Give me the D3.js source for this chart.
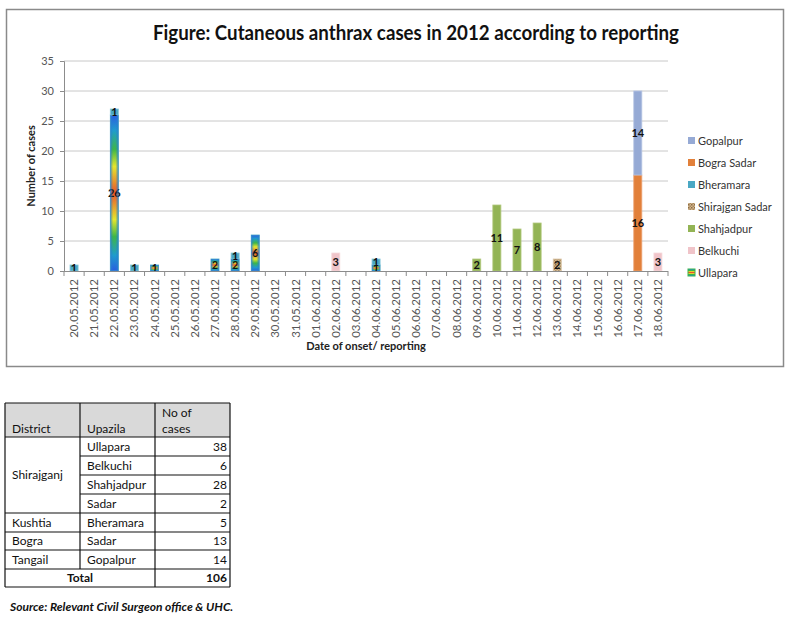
<!DOCTYPE html>
<html>
<head>
<meta charset="utf-8">
<script src="https://cdn.jsdelivr.net/npm/d3@7"></script>
<style>
  body { margin: 0; background: #fff; }
  svg { display: block; font-family: Lato, "Open Sans", sans-serif; }
</style>
</head>
<body>
<svg id="fig" width="803" height="618"></svg>
<script>
// ---- chart data ----
var dates = ["20.05.2012", "21.05.2012", "22.05.2012", "23.05.2012", "24.05.2012", "25.05.2012",
  "26.05.2012", "27.05.2012", "28.05.2012", "29.05.2012", "30.05.2012", "31.05.2012",
  "01.06.2012", "02.06.2012", "03.06.2012", "04.06.2012", "05.06.2012", "06.06.2012",
  "07.06.2012", "08.06.2012", "09.06.2012", "10.06.2012", "11.06.2012", "12.06.2012",
  "13.06.2012", "14.06.2012", "15.06.2012", "16.06.2012", "17.06.2012", "18.06.2012"];

var ullapara      = [0,0,26,0,1,0,0,2,2,6,0,0,0,0,0,1,0,0,0,0,0,0,0,0,0,0,0,0,0,0];
var belkuchi      = [0,0,0,0,0,0,0,0,0,0,0,0,0,3,0,0,0,0,0,0,0,0,0,0,0,0,0,0,0,3];
var shahjadpur    = [0,0,0,0,0,0,0,0,0,0,0,0,0,0,0,0,0,0,0,0,2,11,7,8,0,0,0,0,0,0];
var shirajganSadar= [0,0,0,0,0,0,0,0,0,0,0,0,0,0,0,0,0,0,0,0,0,0,0,0,2,0,0,0,0,0];
var bheramara     = [1,0,1,1,0,0,0,0,1,0,0,0,0,0,0,1,0,0,0,0,0,0,0,0,0,0,0,0,0,0];
var bograSadar    = [0,0,0,0,0,0,0,0,0,0,0,0,0,0,0,0,0,0,0,0,0,0,0,0,0,0,0,0,16,0];
var gopalpur      = [0,0,0,0,0,0,0,0,0,0,0,0,0,0,0,0,0,0,0,0,0,0,0,0,0,0,0,0,14,0];

// stacking order, bottom to top
var seriesNames = ["Ullapara", "Belkuchi", "Shahjadpur", "Shirajgan Sadar", "Bheramara", "Bogra Sadar", "Gopalpur"];
var seriesValues = [ullapara, belkuchi, shahjadpur, shirajganSadar, bheramara, bograSadar, gopalpur];
var yTicks = [0, 5, 10, 15, 20, 25, 30, 35];

// ---- table data ----
var districts = ["Shirajganj", "Kushtia", "Bogra", "Tangail"];
var districtSpans = [4, 1, 1, 1];
var upazilas = ["Ullapara", "Belkuchi", "Shahjadpur", "Sadar", "Bheramara", "Sadar", "Gopalpur"];
var caseCounts = [38, 6, 28, 2, 5, 13, 14];
var totalCases = 106;

var colors = {
  "Ullapara": "url(#ullaGrad)",
  "Belkuchi": "#f0c4c9",
  "Shahjadpur": "#93b455",
  "Shirajgan Sadar": "url(#sadarPat)",
  "Bheramara": "#4aa8c4",
  "Bogra Sadar": "#e2803a",
  "Gopalpur": "#96aad5"
};
var strokes = {
  "Ullapara": "#4aa8c4",
  "Belkuchi": "#f6dadd",
  "Shahjadpur": "#b2c97f",
  "Shirajgan Sadar": "#dcc7a8",
  "Bheramara": "#86c6da",
  "Bogra Sadar": "#eca374",
  "Gopalpur": "#b6c4e3"
};

var svg = d3.select("#fig");

// gradients / patterns
var defs = svg.append("defs");
var g1 = defs.append("linearGradient").attr("id", "ullaGrad")
  .attr("x1", 0).attr("y1", 0).attr("x2", 0).attr("y2", 1);
[[0, "#2a5ee0"], [0.1, "#1f9ccc"], [0.22, "#3db648"], [0.33, "#e4e62c"],
 [0.5, "#e8552c"], [0.67, "#e4e62c"], [0.78, "#3db648"], [0.9, "#1f9ccc"], [1, "#2a5ee0"]]
  .forEach(function(s) { g1.append("stop").attr("offset", s[0]).attr("stop-color", s[1]); });

var g2 = defs.append("linearGradient").attr("id", "ullaEdge")
  .attr("x1", 0).attr("y1", 0).attr("x2", 1).attr("y2", 0);
[[0, 0.8], [0.35, 0], [0.65, 0], [1, 0.8]].forEach(function(s) {
  g2.append("stop").attr("offset", s[0]).attr("stop-color", "#2a7fd0").attr("stop-opacity", s[1]);
});

var pat = defs.append("pattern").attr("id", "sadarPat")
  .attr("width", 3).attr("height", 3).attr("patternUnits", "userSpaceOnUse");
pat.append("rect").attr("width", 3).attr("height", 3).attr("fill", "#d2b68e");
pat.append("rect").attr("x", 0).attr("y", 0).attr("width", 1.5).attr("height", 1.5).attr("fill", "#8f6e45");
pat.append("rect").attr("x", 1.5).attr("y", 1.5).attr("width", 1.5).attr("height", 1.5).attr("fill", "#a98a60");

// chart frame
svg.append("rect")
  .attr("x", 6.5).attr("y", 9.5)
  .attr("width", 777).attr("height", 357)
  .attr("fill", "#fff")
  .attr("stroke", "#8a8a8a")
  .attr("stroke-width", 1.5);

// title
var title = svg.append("text")
  .attr("x", 416).attr("y", 40)
  .attr("text-anchor", "middle")
  .attr("font-size", 20)
  .attr("font-weight", "bold")
  .attr("fill", "#111")
  .text("Figure: Cutaneous anthrax cases in 2012 according to reporting");
if (title.node().getComputedTextLength() > 526) {
  title.attr("textLength", 526).attr("lengthAdjust", "spacingAndGlyphs");
}

// scales
var x = d3.scaleBand()
  .domain(dates)
  .range([64, 668])
  .paddingInner(0.6)
  .paddingOuter(0.3);

var y = d3.scaleLinear()
  .domain([0, 35])
  .range([271, 61]);

// gridlines
svg.append("g").selectAll("line")
  .data(yTicks.slice(1))
  .join("line")
  .attr("x1", 64).attr("x2", 668)
  .attr("y1", d => y(d)).attr("y2", d => y(d))
  .attr("stroke", "#c8c8c8")
  .attr("stroke-width", 1);

// y axis
var yAxis = svg.append("g")
  .attr("transform", "translate(64,0)")
  .call(d3.axisLeft(y).tickValues(yTicks).tickSize(4).tickPadding(6));
yAxis.select(".domain").attr("stroke", "#8c8c8c");
yAxis.selectAll(".tick line").attr("stroke", "#8c8c8c");
yAxis.selectAll(".tick text")
  .attr("font-size", 11)
  .attr("font-family", "Lato, sans-serif")
  .attr("fill", "#555");

// stacked data
var rows = dates.map(function(d, i) {
  var r = { date: d };
  seriesNames.forEach(function(s, k) { r[s] = seriesValues[k][i]; });
  return r;
});
var stacked = d3.stack().keys(seriesNames)(rows);

var layers = svg.append("g").selectAll("g")
  .data(stacked)
  .join("g");

layers.selectAll("rect.bar")
  .data(d => d.map(p => ({ key: d.key, p: p })).filter(o => o.p[1] - o.p[0] > 0))
  .join("rect")
  .attr("class", "bar")
  .attr("x", o => x(o.p.data.date))
  .attr("width", x.bandwidth())
  .attr("y", o => y(o.p[1]))
  .attr("height", o => y(o.p[0]) - y(o.p[1]))
  .attr("fill", o => colors[o.key])
  .attr("stroke", o => strokes[o.key])
  .attr("stroke-width", 0.8);

// edge shading for the gradient series
svg.append("g").selectAll("rect")
  .data(stacked[0].filter(p => p[1] - p[0] > 0))
  .join("rect")
  .attr("x", p => x(p.data.date))
  .attr("width", x.bandwidth())
  .attr("y", p => y(p[1]))
  .attr("height", p => y(p[0]) - y(p[1]))
  .attr("fill", "url(#ullaEdge)");

// x axis line and ticks between categories
svg.append("line")
  .attr("x1", 64).attr("x2", 668)
  .attr("y1", 271.5).attr("y2", 271.5)
  .attr("stroke", "#8c8c8c");

svg.append("g").selectAll("line")
  .data(d3.range(dates.length + 1))
  .join("line")
  .attr("x1", i => 64 + i * x.step()).attr("x2", i => 64 + i * x.step())
  .attr("y1", 271).attr("y2", 276)
  .attr("stroke", "#8c8c8c");

svg.append("g").selectAll("text")
  .data(dates)
  .join("text")
  .attr("transform", d => `translate(${x(d) + x.bandwidth() / 2 + 4}, 279) rotate(-90)`)
  .attr("text-anchor", "end")
  .attr("font-size", 11.5)
  .attr("fill", "#555")
  .text(d => d);

// data labels
layers.selectAll("text")
  .data(d => d.map(p => ({ key: d.key, p: p })).filter(o => o.p[1] - o.p[0] > 0))
  .join("text")
  .attr("x", o => x(o.p.data.date) + x.bandwidth() / 2)
  .attr("y", o => y((o.p[0] + o.p[1]) / 2) + 4)
  .attr("text-anchor", "middle")
  .attr("font-size", 11)
  .attr("font-weight", "bold")
  .attr("fill", "#111")
  .text(o => o.p[1] - o.p[0]);

// axis titles
svg.append("text")
  .attr("transform", "translate(35,166) rotate(-90)")
  .attr("text-anchor", "middle")
  .attr("font-size", 11)
  .attr("font-weight", "bold")
  .attr("fill", "#222")
  .text("Number of cases");

svg.append("text")
  .attr("x", 366).attr("y", 350)
  .attr("text-anchor", "middle")
  .attr("font-size", 11)
  .attr("font-weight", "bold")
  .attr("fill", "#222")
  .text("Date of onset/ reporting");

// legend (top series first)
var legendNames = seriesNames.slice().reverse();
var legend = svg.append("g").selectAll("g")
  .data(legendNames)
  .join("g")
  .attr("transform", (d, i) => `translate(688, ${141 + i * 22})`);

legend.append("rect")
  .attr("x", 0).attr("y", -4)
  .attr("width", 7).attr("height", 7)
  .attr("fill", d => colors[d])
  .attr("stroke", d => d === "Ullapara" ? "#3db648" : "none")
  .attr("stroke-width", 1);

legend.append("text")
  .attr("x", 10).attr("y", 4)
  .attr("font-size", 11)
  .attr("fill", "#333")
  .text(d => d);

// ---- table ----
var colX = [5, 80, 155, 230];
var rowY = [403, 437, 456, 475, 494, 513, 532, 550, 569, 587];
var table = svg.append("g").attr("font-size", 12).attr("fill", "#111");

table.append("rect")
  .attr("x", colX[0]).attr("y", rowY[0])
  .attr("width", colX[3] - colX[0]).attr("height", rowY[1] - rowY[0])
  .attr("fill", "#d9d9d9");

var lines = [];
// horizontal lines
rowY.forEach(function(yy, r) {
  if (r >= 2 && r <= 4) lines.push([colX[1], yy, colX[3], yy]);
  else lines.push([colX[0], yy, colX[3], yy]);
});
// vertical lines
lines.push([colX[0], rowY[0], colX[0], rowY[9]]);
lines.push([colX[3], rowY[0], colX[3], rowY[9]]);
lines.push([colX[1], rowY[0], colX[1], rowY[8]]);
lines.push([colX[2], rowY[0], colX[2], rowY[9]]);

table.append("g").selectAll("line")
  .data(lines)
  .join("line")
  .attr("x1", d => d[0]).attr("y1", d => d[1])
  .attr("x2", d => d[2]).attr("y2", d => d[3])
  .attr("stroke", "#111")
  .attr("stroke-width", 1.2);

table.append("text").attr("x", 12).attr("y", 433).text("District");
table.append("text").attr("x", 87).attr("y", 433).text("Upazila");
table.append("text").attr("x", 162).attr("y", 417).text("No of");
table.append("text").attr("x", 162).attr("y", 433).text("cases");

var startRow = 1;
districts.forEach(function(d, k) {
  var top = rowY[startRow], bot = rowY[startRow + districtSpans[k]];
  table.append("text")
    .attr("x", 12).attr("y", (top + bot) / 2 + 4)
    .text(d);
  startRow += districtSpans[k];
});

upazilas.forEach(function(u, i) {
  var mid = (rowY[i + 1] + rowY[i + 2]) / 2 + 4;
  table.append("text").attr("x", 87).attr("y", mid).text(u);
  table.append("text").attr("x", 227).attr("y", mid)
    .attr("text-anchor", "end").text(caseCounts[i]);
});

var totMid = (rowY[8] + rowY[9]) / 2 + 4;
table.append("text").attr("x", 80).attr("y", totMid)
  .attr("text-anchor", "middle").attr("font-weight", "bold").text("Total");
table.append("text").attr("x", 227).attr("y", totMid)
  .attr("text-anchor", "end").attr("font-weight", "bold").text(totalCases);

svg.append("text")
  .attr("x", 10).attr("y", 611)
  .attr("font-size", 12)
  .attr("font-weight", "bold")
  .attr("font-style", "italic")
  .attr("fill", "#111")
  .text("Source: Relevant Civil Surgeon office & UHC.");
</script>
</body>
</html>
